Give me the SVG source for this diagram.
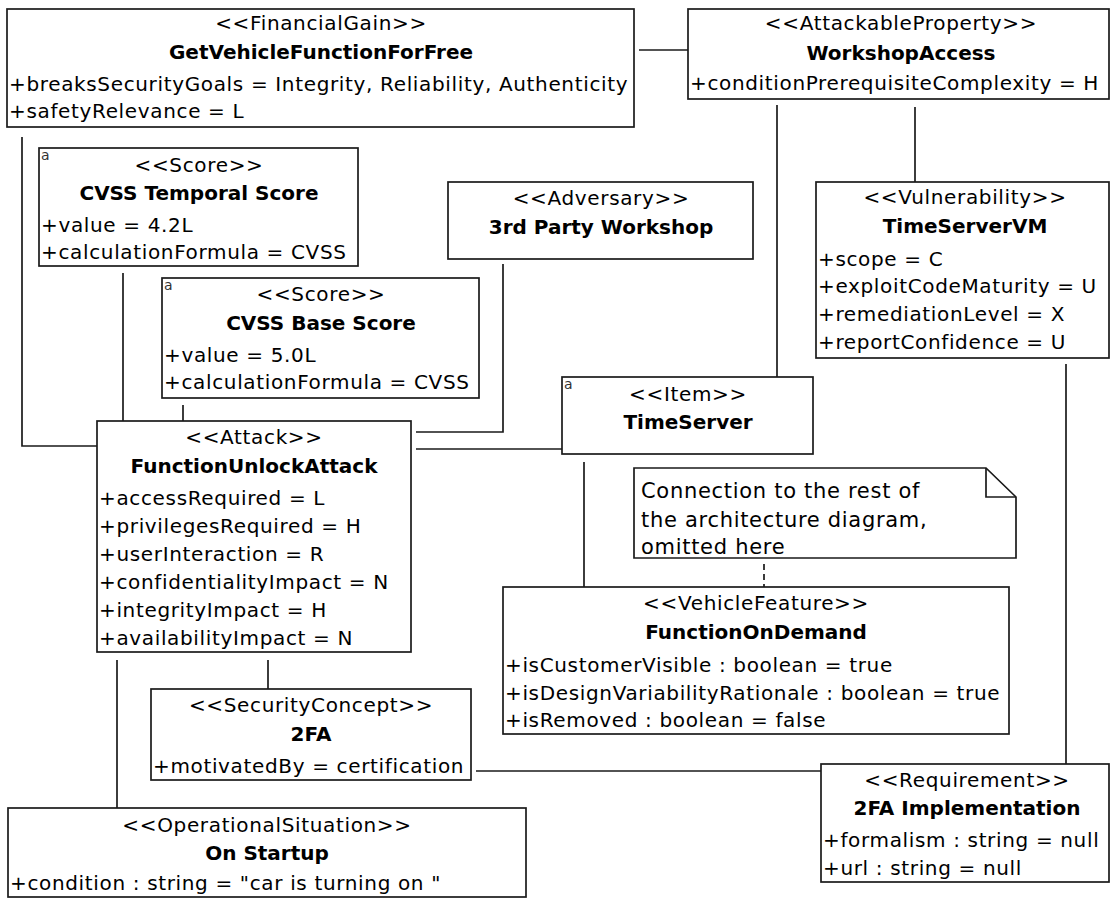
<svg xmlns="http://www.w3.org/2000/svg" width="1110" height="899" viewBox="0 0 1110 899">
<style>
.box{fill:#fff;stroke:#1a1a1a;stroke-width:1.7}
.st{font-family:"DejaVu Sans","Liberation Sans",sans-serif;font-size:20px;letter-spacing:0.65px;text-anchor:middle;fill:#000}
.nm{font-family:"DejaVu Sans","Liberation Sans",sans-serif;font-size:20px;font-weight:bold;text-anchor:middle;fill:#000}
.at{font-family:"DejaVu Sans","Liberation Sans",sans-serif;font-size:20px;letter-spacing:0.65px;fill:#000}
.nt{font-family:"DejaVu Sans","Liberation Sans",sans-serif;font-size:21px;letter-spacing:0.7px;fill:#000}
.ic{font-family:"DejaVu Sans",sans-serif;font-size:14px;fill:#333}
.ln{fill:none;stroke:#1a1a1a;stroke-width:1.7}
.dl{fill:none;stroke:#1a1a1a;stroke-width:1.7;stroke-dasharray:6,4}
</style>
<rect width="1110" height="899" fill="#fff"/>
<g id="connectors">
<line class="ln" x1="639" y1="50" x2="688" y2="50"/>
<line class="ln" x1="777" y1="105" x2="777" y2="377"/>
<line class="ln" x1="915" y1="107" x2="915" y2="182"/>
<line class="ln" x1="1066" y1="364" x2="1066" y2="764"/>
<polyline class="ln" points="503,264 503,432 416,432"/>
<line class="ln" x1="416" y1="449" x2="562" y2="449"/>
<polyline class="ln" points="22,137 22,446 97,446"/>
<line class="ln" x1="123" y1="273" x2="123" y2="421"/>
<line class="ln" x1="183" y1="405" x2="183" y2="421"/>
<line class="ln" x1="584" y1="462" x2="584" y2="587"/>
<line class="dl" x1="764" y1="564" x2="764" y2="587"/>
<line class="ln" x1="268" y1="660" x2="268" y2="689"/>
<line class="ln" x1="117" y1="660" x2="117" y2="808"/>
<line class="ln" x1="476" y1="771" x2="821" y2="771"/>
</g>
<g id="getVehicleFunctionForFree">
<rect class="box" x="7" y="9" width="627" height="118"/>
<text class="st" x="321" y="30">&lt;&lt;FinancialGain&gt;&gt;</text>
<text class="nm" x="321" y="59">GetVehicleFunctionForFree</text>
<text class="at" x="9" y="91">+breaksSecurityGoals = Integrity, Reliability, Authenticity</text>
<text class="at" x="9" y="118">+safetyRelevance = L</text>
</g>
<g id="workshopAccess">
<rect class="box" x="688" y="9" width="421" height="90"/>
<text class="st" x="901" y="30">&lt;&lt;AttackableProperty&gt;&gt;</text>
<text class="nm" x="901" y="60">WorkshopAccess</text>
<text class="at" x="690" y="90">+conditionPrerequisiteComplexity = H</text>
</g>
<g id="cvssTemporalScore">
<rect class="box" x="39" y="148" width="319" height="118"/>
<text class="ic" x="41" y="160">a</text>
<text class="st" x="199" y="172">&lt;&lt;Score&gt;&gt;</text>
<text class="nm" x="199" y="200">CVSS Temporal Score</text>
<text class="at" x="41" y="232">+value = 4.2L</text>
<text class="at" x="41" y="259">+calculationFormula = CVSS</text>
</g>
<g id="thirdPartyWorkshop">
<rect class="box" x="448" y="182" width="305" height="77"/>
<text class="st" x="601" y="205">&lt;&lt;Adversary&gt;&gt;</text>
<text class="nm" x="601" y="234">3rd Party Workshop</text>
</g>
<g id="timeServerVM">
<rect class="box" x="816" y="182" width="293" height="176"/>
<text class="st" x="965" y="204">&lt;&lt;Vulnerability&gt;&gt;</text>
<text class="nm" x="965" y="233">TimeServerVM</text>
<text class="at" x="818" y="266">+scope = C</text>
<text class="at" x="818" y="293">+exploitCodeMaturity = U</text>
<text class="at" x="818" y="321">+remediationLevel = X</text>
<text class="at" x="818" y="349">+reportConfidence = U</text>
</g>
<g id="cvssBaseScore">
<rect class="box" x="162" y="278" width="317" height="120"/>
<text class="ic" x="164" y="290">a</text>
<text class="st" x="321" y="301">&lt;&lt;Score&gt;&gt;</text>
<text class="nm" x="321" y="330">CVSS Base Score</text>
<text class="at" x="164" y="362">+value = 5.0L</text>
<text class="at" x="164" y="389">+calculationFormula = CVSS</text>
</g>
<g id="timeServer">
<rect class="box" x="562" y="377" width="251" height="77"/>
<text class="ic" x="564" y="389">a</text>
<text class="st" x="688" y="401">&lt;&lt;Item&gt;&gt;</text>
<text class="nm" x="688" y="429">TimeServer</text>
</g>
<g id="functionUnlockAttack">
<rect class="box" x="97" y="421" width="314" height="231"/>
<text class="st" x="254" y="444">&lt;&lt;Attack&gt;&gt;</text>
<text class="nm" x="254" y="473">FunctionUnlockAttack</text>
<text class="at" x="99" y="505">+accessRequired = L</text>
<text class="at" x="99" y="533">+privilegesRequired = H</text>
<text class="at" x="99" y="561">+userInteraction = R</text>
<text class="at" x="99" y="589">+confidentialityImpact = N</text>
<text class="at" x="99" y="617">+integrityImpact = H</text>
<text class="at" x="99" y="645">+availabilityImpact = N</text>
</g>
<g id="note">
<path class="box" d="M634,468 H986 L1016,497 V558 H634 Z"/>
<path class="ln" d="M986,468 V497 H1016"/>
<text class="nt" x="641" y="498">Connection to the rest of</text>
<text class="nt" x="641" y="527">the architecture diagram,</text>
<text class="nt" x="641" y="554">omitted here</text>
</g>
<g id="functionOnDemand">
<rect class="box" x="503" y="587" width="506" height="147"/>
<text class="st" x="756" y="610">&lt;&lt;VehicleFeature&gt;&gt;</text>
<text class="nm" x="756" y="639">FunctionOnDemand</text>
<text class="at" x="505" y="672">+isCustomerVisible : boolean = true</text>
<text class="at" x="505" y="700">+isDesignVariabilityRationale : boolean = true</text>
<text class="at" x="505" y="727">+isRemoved : boolean = false</text>
</g>
<g id="twoFA">
<rect class="box" x="151" y="689" width="320" height="91"/>
<text class="st" x="311" y="712">&lt;&lt;SecurityConcept&gt;&gt;</text>
<text class="nm" x="311" y="741">2FA</text>
<text class="at" x="153" y="773">+motivatedBy = certification</text>
</g>
<g id="twoFAImplementation">
<rect class="box" x="821" y="764" width="288" height="118"/>
<text class="st" x="967" y="787">&lt;&lt;Requirement&gt;&gt;</text>
<text class="nm" x="967" y="815">2FA Implementation</text>
<text class="at" x="823" y="847">+formalism : string = null</text>
<text class="at" x="823" y="875">+url : string = null</text>
</g>
<g id="onStartup">
<rect class="box" x="8" y="808" width="518" height="89"/>
<text class="st" x="267" y="832">&lt;&lt;OperationalSituation&gt;&gt;</text>
<text class="nm" x="267" y="860">On Startup</text>
<text class="at" x="10" y="890">+condition : string = "car is turning on "</text>
</g>
</svg>
